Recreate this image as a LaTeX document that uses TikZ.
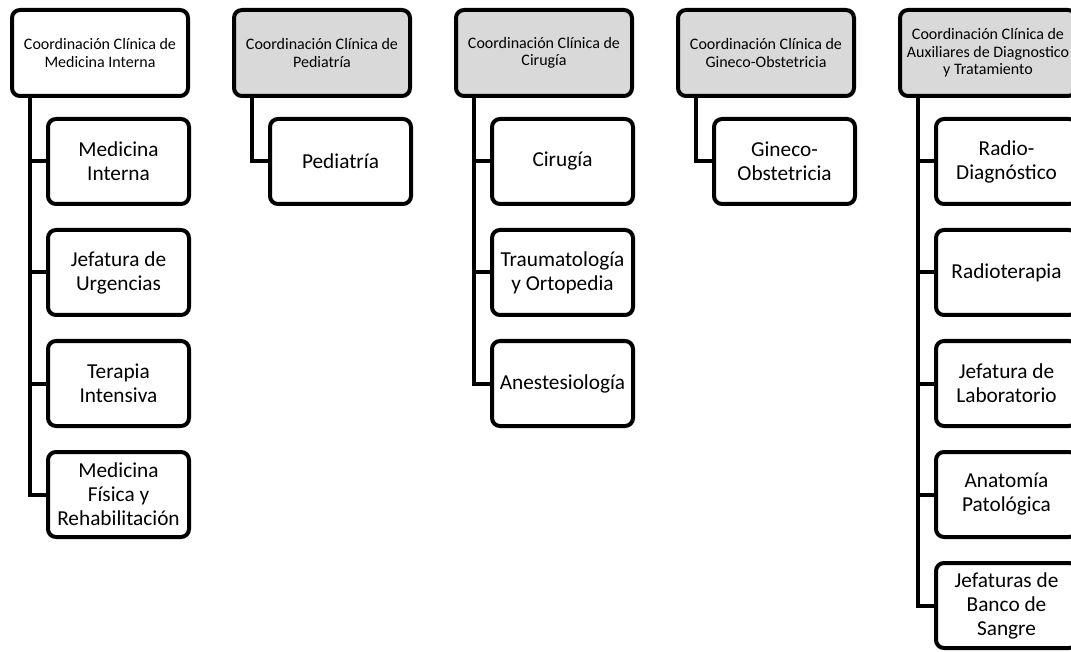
\documentclass[tikz,border=0pt]{standalone}
\usepackage{fontspec}
\setmainfont{Carlito}
\definecolor{headgray}{HTML}{D9D9D9}
\begin{document}
\begin{tikzpicture}[x=1pt,y=-1pt,
  box/.style={draw=black, line width=4pt, rounded corners=8pt, rectangle,
    inner sep=0pt, align=center, text=black},
  head/.style={box, minimum width=176pt, minimum height=86pt,
    font=\fontsize{16}{17.5}\selectfont},
  unit/.style={box, fill=white, minimum width=141pt, minimum height=85pt,
    font=\fontsize{21.3}{24}\selectfont},
  link/.style={draw=black, line width=4pt}]
\useasboundingbox (0,0) rectangle (1071,652);
\clip (0,0) rectangle (1071,652);

% coordination headers (left edges 10, 232, 454, 676, 898)
\node[head, fill=white]    (h1) at (100,53) {Coordinación Clínica de\\Medicina Interna};
\node[head, fill=headgray] (h2) at (322,53) {Coordinación Clínica de\\Pediatría};
\node[head, fill=headgray] (h3) at (544,53) {Coordinación Clínica de\\Cirugía};
\node[head, fill=headgray] (h4) at (766,53) {Coordinación Clínica de\\Gineco-Obstetricia};
\node[head, fill=headgray] (h5) at (988,53) {Coordinación Clínica de\\Auxiliares de Diagnostico\\y Tratamiento};

% units of Medicina Interna
\node[unit] (a1) at (118.5,161.5) {Medicina\\Interna};
\node[unit] (a2) at (118.5,272.5) {Jefatura de\\Urgencias};
\node[unit] (a3) at (118.5,383.5) {Terapia\\Intensiva};
\node[unit] (a4) at (118.5,494.5) {Medicina\\Física y\\Rehabilitación};

% units of Pediatría
\node[unit] (b1) at (340.5,161.5) {Pediatría};

% units of Cirugía
\node[unit] (c1) at (562.5,161.5) {Cirugía};
\node[unit] (c2) at (562.5,272.5) {Traumatología\\y Ortopedia};
\node[unit] (c3) at (562.5,383.5) {Anestesiología};

% units of Gineco-Obstetricia
\node[unit] (d1) at (784.5,161.5) {Gineco-\\Obstetricia};

% units of Auxiliares de Diagnostico y Tratamiento
\node[unit] (e1) at (1006.5,161.5) {Radio-\\Diagnóstico};
\node[unit] (e2) at (1006.5,272.5) {Radioterapia};
\node[unit] (e3) at (1006.5,383.5) {Jefatura de\\Laboratorio};
\node[unit] (e4) at (1006.5,494.5) {Anatomía\\Patológica};
\node[unit] (e5) at (1006.5,605.5) {Jefaturas de\\Banco de\\Sangre};

% spine start points under each header
\coordinate (s1) at ([xshift=-70pt]h1.south);
\coordinate (s2) at ([xshift=-70pt]h2.south);
\coordinate (s3) at ([xshift=-70pt]h3.south);
\coordinate (s4) at ([xshift=-70pt]h4.south);
\coordinate (s5) at ([xshift=-70pt]h5.south);

% spines down to the last unit, with branches to the others
\draw[link] (s1) |- (a4.west);
\draw[link] (s1 |- a1.west) -- (a1.west);
\draw[link] (s1 |- a2.west) -- (a2.west);
\draw[link] (s1 |- a3.west) -- (a3.west);

\draw[link] (s2) |- (b1.west);

\draw[link] (s3) |- (c3.west);
\draw[link] (s3 |- c1.west) -- (c1.west);
\draw[link] (s3 |- c2.west) -- (c2.west);

\draw[link] (s4) |- (d1.west);

\draw[link] (s5) |- (e5.west);
\draw[link] (s5 |- e1.west) -- (e1.west);
\draw[link] (s5 |- e2.west) -- (e2.west);
\draw[link] (s5 |- e3.west) -- (e3.west);
\draw[link] (s5 |- e4.west) -- (e4.west);
\end{tikzpicture}
\end{document}
